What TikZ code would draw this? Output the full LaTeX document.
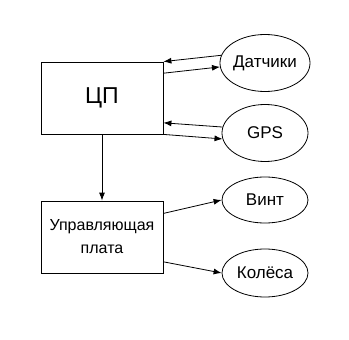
\documentclass[tikz,border=0pt]{standalone}
\usepackage{fontspec}
\setmainfont{Liberation Sans}
\usetikzlibrary{arrows.meta,shapes.geometric}

\begin{document}
\begin{tikzpicture}[
    x=1pt, y=-1pt,
    block/.style={rectangle, draw, line width=0.8pt, minimum width=122pt, minimum height=72pt, inner sep=0pt, text centered},
    unit/.style={ellipse, draw, line width=0.8pt, minimum width=86pt, inner sep=0pt, font=\fontsize{17}{20}\selectfont},
    link/.style={-{Latex[length=8pt,width=6pt]}, line width=0.8pt}
]
\useasboundingbox (0,0) rectangle (349,340);

% Blocs
\node[block, font=\fontsize{23}{26}\selectfont] (cpu) at (102,98) {ЦП};
\node[block, font=\fontsize{16}{23}\selectfont, align=center] (board) at (102,237) {Управляющая\\плата};

% Périphériques
\node[unit, minimum height=57pt] (sens) at (265,63) {Датчики};
\node[unit, minimum height=57pt] (gps) at (265,133) {GPS};
\node[unit, minimum height=46pt] (vint) at (265,200) {Винт};
\node[unit, minimum height=48pt] (wheels) at (265,273) {Колёса};

% Connexions
\draw[link] (sens.170) -- (cpu.north east);
\draw[link] (cpu.22) -- (sens.185);
\draw[link] (gps.172) -- (cpu.-22);
\draw[link] (cpu.south east) -- (gps.188);
\draw[link] (cpu) -- (board);
\draw[link] (board.21) -- (vint.west);
\draw[link] (board.-22) -- (wheels.west);

\end{tikzpicture}
\end{document}
